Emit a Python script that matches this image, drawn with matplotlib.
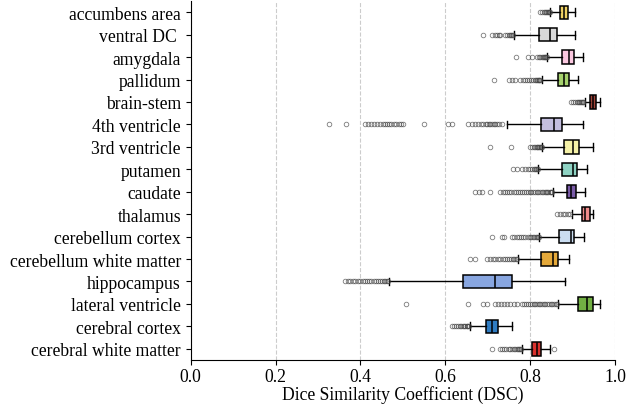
import matplotlib.pyplot as plt
import numpy as np

plt.rcParams['font.family'] = ['Liberation Serif', 'DejaVu Serif']

# Regions, top to bottom
regions = ['accumbens area', 'ventral DC ', 'amygdala', 'pallidum', 'brain-stem',
           '4th ventricle', '3rd ventricle', 'putamen', 'caudate', 'thalamus',
           'cerebellum cortex', 'cerebellum white matter', 'hippocampus',
           'lateral ventricle', 'cerebral cortex', 'cerebral white matter']

# box statistics: whislo, q1, median, q3, whishi
whislo = [0.847, 0.762, 0.840, 0.828, 0.929, 0.745, 0.828, 0.819,
          0.854, 0.899, 0.821, 0.771, 0.468, 0.866, 0.658, 0.780]
q1 = [0.870, 0.821, 0.875, 0.866, 0.941, 0.825, 0.880, 0.875,
      0.887, 0.921, 0.868, 0.826, 0.641, 0.913, 0.696, 0.805]
med = [0.880, 0.847, 0.892, 0.880, 0.948, 0.856, 0.901, 0.901,
       0.896, 0.929, 0.896, 0.854, 0.717, 0.934, 0.711, 0.815]
q3 = [0.889, 0.863, 0.903, 0.892, 0.955, 0.876, 0.915, 0.910,
      0.908, 0.940, 0.903, 0.866, 0.757, 0.948, 0.724, 0.826]
whishi = [0.906, 0.906, 0.925, 0.913, 0.965, 0.924, 0.948, 0.934,
          0.929, 0.948, 0.927, 0.892, 0.882, 0.965, 0.757, 0.847]

fl_accumbens = [0.823, 0.828, 0.832, 0.835, 0.838, 0.840, 0.842, 0.844, 0.845, 0.846]
fl_ventral_dc = [0.689, 0.710, 0.716, 0.721, 0.726, 0.729, 0.741, 0.745, 0.749, 0.752,
                 0.755, 0.758, 0.760]
fl_amygdala = [0.767, 0.795, 0.804, 0.816, 0.820, 0.824, 0.827, 0.830, 0.832, 0.834,
               0.836, 0.838, 0.839]
fl_pallidum = [0.715, 0.750, 0.757, 0.764, 0.776, 0.782, 0.788, 0.793, 0.798, 0.803,
               0.807, 0.811, 0.814, 0.816, 0.818, 0.820, 0.822, 0.823]
fl_brainstem = [0.896, 0.902, 0.906, 0.910, 0.913, 0.916, 0.918, 0.920, 0.922, 0.924, 0.925]
fl_4th = [0.327, 0.366, 0.411, 0.418, 0.425, 0.432, 0.440, 0.446, 0.452, 0.458, 0.463,
          0.468, 0.473, 0.478, 0.484, 0.490, 0.495, 0.500, 0.550, 0.606, 0.616, 0.654,
          0.662, 0.670, 0.678, 0.685, 0.690, 0.695, 0.699, 0.703, 0.706, 0.710, 0.714,
          0.718, 0.722, 0.727, 0.734]
fl_3rd = [0.705, 0.755, 0.800, 0.805, 0.809, 0.812, 0.815, 0.817, 0.819, 0.821, 0.823,
          0.825, 0.826, 0.827]
fl_putamen = [0.760, 0.770, 0.781, 0.788, 0.795, 0.800, 0.805, 0.808, 0.811, 0.814,
              0.816, 0.818]
fl_caudate = [0.670, 0.680, 0.687, 0.705, 0.729, 0.735, 0.741, 0.746, 0.751, 0.756,
              0.761, 0.766, 0.771, 0.776, 0.781, 0.786, 0.790, 0.795, 0.799, 0.803,
              0.807, 0.811, 0.815, 0.819, 0.823, 0.827, 0.830, 0.834, 0.837, 0.840,
              0.843, 0.846, 0.848, 0.850, 0.852]
fl_thalamus = [0.863, 0.870, 0.877, 0.883, 0.889, 0.894]
fl_cb_cortex = [0.710, 0.734, 0.738, 0.757, 0.763, 0.769, 0.774, 0.779, 0.784, 0.789,
                0.794, 0.799, 0.803, 0.807, 0.810, 0.813, 0.816, 0.818, 0.820]
fl_cb_wm = [0.658, 0.670, 0.698, 0.705, 0.712, 0.718, 0.724, 0.730, 0.735, 0.740,
            0.745, 0.750, 0.755, 0.759, 0.763, 0.767, 0.770]
fl_hippo = [0.364, 0.370, 0.376, 0.382, 0.388, 0.394, 0.400, 0.406, 0.411, 0.416,
            0.421, 0.426, 0.431, 0.436, 0.441, 0.446, 0.451, 0.455, 0.459, 0.462, 0.465]
fl_lat_vent = [0.507, 0.654, 0.689, 0.699, 0.717, 0.724, 0.731, 0.739, 0.746, 0.753,
               0.761, 0.769, 0.781, 0.786, 0.791, 0.796, 0.800, 0.804, 0.808, 0.812,
               0.816, 0.820, 0.824, 0.828, 0.832, 0.836, 0.840, 0.844, 0.848, 0.852,
               0.856, 0.860, 0.864]
fl_cortex = [0.615, 0.620, 0.625, 0.630, 0.634, 0.638, 0.641, 0.644, 0.647, 0.650,
             0.652, 0.654, 0.656]
fl_wm = [0.709, 0.729, 0.734, 0.739, 0.744, 0.749, 0.753, 0.757, 0.761, 0.765, 0.768,
         0.771, 0.774, 0.776, 0.778, 0.857]

fliers = [fl_accumbens, fl_ventral_dc, fl_amygdala, fl_pallidum, fl_brainstem, fl_4th,
          fl_3rd, fl_putamen, fl_caudate, fl_thalamus, fl_cb_cortex, fl_cb_wm,
          fl_hippo, fl_lat_vent, fl_cortex, fl_wm]

colors = ['#F0D264', '#D9D9D9', '#FBC8E0', '#A6D26E', '#A04438', '#C3BEDF',
          '#F6F2A8', '#8FD3C3', '#7A5BA8', '#F08C8C', '#CADDF1', '#E5A93A',
          '#88A6E0', '#72B043', '#2F7CC2', '#D9312D']

stats = []
for i, name in enumerate(regions):
    stats.append(dict(label=name, whislo=whislo[i], q1=q1[i], med=med[i],
                      q3=q3[i], whishi=whishi[i], fliers=fliers[i]))

fig = plt.figure(figsize=(6.37, 4.06), dpi=100)
ax = fig.add_axes([0.2994, 0.1108, 0.6661, 0.8842])

bp = ax.bxp(stats, positions=np.arange(len(regions)), widths=0.6, capwidths=0.35,
            orientation='horizontal', patch_artist=True,
            boxprops=dict(linewidth=1.1, edgecolor='black'),
            medianprops=dict(color='black', linewidth=1.1),
            whiskerprops=dict(linewidth=1.0),
            capprops=dict(linewidth=1.0),
            flierprops=dict(marker='o', markerfacecolor='none', markeredgecolor='#444444',
                            markersize=3.3, markeredgewidth=0.6, alpha=0.7))
for patch, c in zip(bp['boxes'], colors):
    patch.set_facecolor(c)

ax.set_xlim(0, 1.0)
ax.set_ylim(15.5, -0.5)
ax.set_xticks([0.0, 0.2, 0.4, 0.6, 0.8, 1.0])
ax.xaxis.grid(True, linestyle='--', color='#CCCCCC', linewidth=0.8)
ax.set_axisbelow(True)
ax.spines['top'].set_visible(False)
ax.spines['right'].set_visible(False)
ax.tick_params(axis='y', labelsize=12.7)
ax.tick_params(axis='x', labelsize=12.7, pad=2)
ax.set_xlabel('Dice Similarity Coefficient (DSC)', fontsize=12.7, labelpad=0)

fig.savefig('out.png', dpi=100)
